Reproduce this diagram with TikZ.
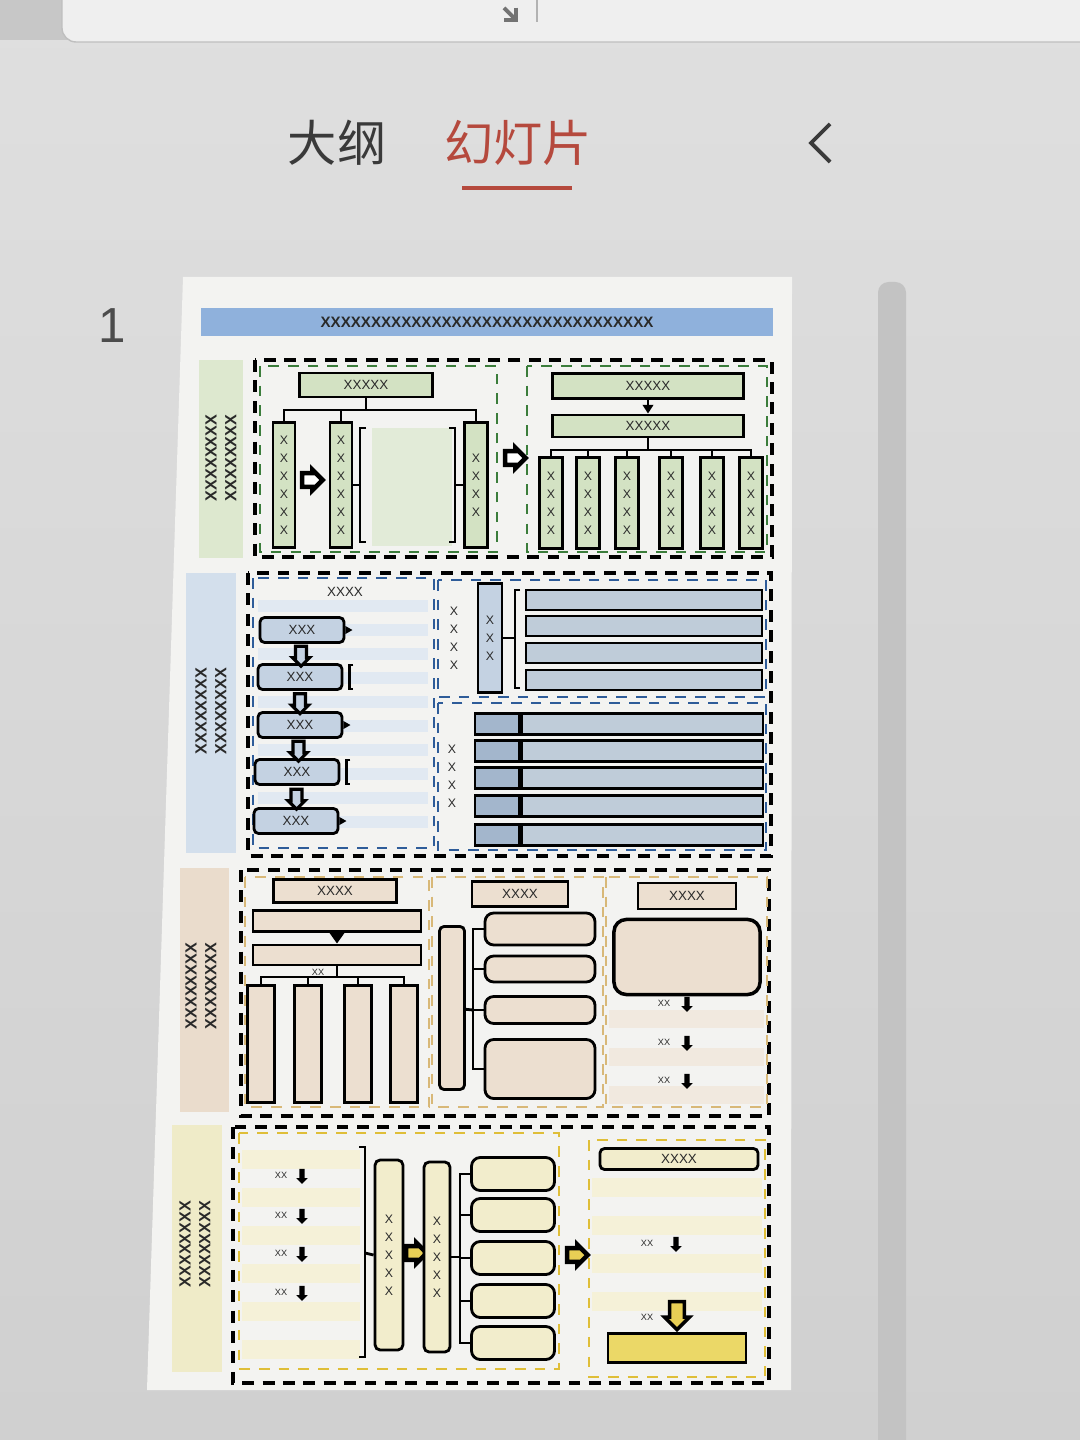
\documentclass[tikz,border=0pt]{standalone}
\usepackage{fontspec}
\setmainfont{Liberation Sans}
\newfontfamily\cjk{Noto Sans CJK SC}
\usetikzlibrary{shapes.arrows,calc,arrows.meta}

\definecolor{scrtop}{HTML}{DFDFDF}
\definecolor{scrbot}{HTML}{D0D0D0}
\definecolor{card}{HTML}{EFEFEF}
\definecolor{slide}{HTML}{F3F3F1}
\definecolor{scroll}{HTML}{C3C3C3}
\definecolor{tabgrey}{HTML}{3A3A3A}
\definecolor{tabred}{HTML}{B5493D}
\definecolor{txt}{HTML}{2A2A2A}
\definecolor{tblue}{HTML}{8FB1DC}
\definecolor{glight}{HTML}{DDE8CF}
\definecolor{gfill}{HTML}{D3E2C3}
\definecolor{gpale}{HTML}{E2EBD8}
\definecolor{gdash}{HTML}{3B7D3B}
\definecolor{blight}{HTML}{D3DFEC}
\definecolor{bfill}{HTML}{C4D2E2}
\definecolor{bstripe}{HTML}{E1E9F2}
\definecolor{bbar}{HTML}{BFCCD9}
\definecolor{bdark}{HTML}{A3B6CC}
\definecolor{bdash}{HTML}{2E5C99}
\definecolor{clight}{HTML}{EADCCC}
\definecolor{cfill}{HTML}{ECDFD0}
\definecolor{cstripe}{HTML}{F1E9DF}
\definecolor{cdash}{HTML}{D8B878}
\definecolor{ylight}{HTML}{EFEBC8}
\definecolor{yfill}{HTML}{F2EDCC}
\definecolor{ystripe}{HTML}{F5F1D8}
\definecolor{ydash}{HTML}{DFBE38}
\definecolor{yarrow}{HTML}{E8CF55}
\definecolor{ystrong}{HTML}{EBD867}

\tikzset{
  every node/.style={inner sep=0pt, text=txt, font=\fontsize{3.8}{4.5}\selectfont},
  bx/.style={draw, line width=0.8pt, rectangle},
  rbx/.style={bx, rounded corners=1.3pt},
  vtxt/.style={align=center, font=\fontsize{3.5}{5.1}\selectfont},
  tiny/.style={font=\fontsize{2.6}{3}\selectfont},
  lab/.style={rotate=90, align=center, font=\bfseries\fontsize{4.6}{5.6}\selectfont},
  outer/.style={draw=black, line width=1.1pt, dash pattern=on 3.4pt off 2.4pt},
  inner/.style={line width=0.7pt, dash pattern=on 3pt off 2.6pt},
  wire/.style={line width=0.8pt},
  harr/.style={single arrow, draw, line width=1.3pt, minimum height=0.19cm, minimum width=0.19cm, single arrow head extend=0.035cm, inner sep=1.3pt},
  darr/.style={single arrow, draw, line width=0.9pt, fill=bfill, shape border rotate=270, minimum height=0.2cm, minimum width=0.15cm, single arrow head extend=0.03cm, inner sep=1.1pt},
  sarr/.style={single arrow, fill=black, shape border rotate=270, minimum height=0.15cm, minimum width=0.1cm, single arrow head extend=0.03cm, inner sep=0.55pt},
  bigarr/.style={single arrow, draw, line width=1pt, fill=yarrow, shape border rotate=270, minimum height=0.28cm, minimum width=0.24cm, single arrow head extend=0.05cm, inner sep=1.6pt}
}

\begin{document}
\begin{tikzpicture}[x=0.01cm,y=-0.01cm]
    %schermo
    \useasboundingbox (0,0) rectangle (1080,1440);
    \shade[top color=scrtop, bottom color=scrbot] (0,0) rectangle (1080,1440);
    \fill[black!22] (0,0) rectangle (70,40);
    \draw[fill=card, draw=black!25, rounded corners=4pt] (62,-30) rectangle (1110,42);
    \draw[line width=1.1pt, black!55, -{Straight Barb[length=2.5pt]}] (504,8) -- (518,22);
    \draw[line width=0.8pt, black!30] (537,0) -- (537,22);
    %schede
    \node[font=\cjk\fontsize{14}{14}\selectfont, text=tabgrey] (tab1) at (337,143) {大纲};
    \node[font=\cjk\fontsize{14}{14}\selectfont, text=tabred] (tab2) at (518,143) {幻灯片};
    \draw[tabred, line width=1.4pt] (462,188) -- (572,188);
    \draw[tabgrey, line width=1.1pt] (830,124) -- (811,143) -- (830,162);
    \node[font=\fontsize{14}{14}\selectfont, text=black!70] (num) at (112,326) {1};
    \fill[scroll, rounded corners=3pt] (878,282) rectangle (906,1470);
    %miniatura
    \fill[slide] (183,277) -- (792,277) -- (791,1390) -- (147,1390) -- cycle;
    \fill[tblue] (201,308) rectangle (773,336);
    \node[font=\bfseries\fontsize{4.3}{5}\selectfont] (title) at (487,322) {XXXXXXXXXXXXXXXXXXXXXXXXXXXXXXXXX};
    %%%%%%%%%%%%%%%%%%%%%%%%%%%%%%%%%%%%%%%%%%%%%%%%%%%%%%%%%%%%%%%%%%%%%%%%%%
    %sezione 1
    \fill[glight] (199,360) rectangle (243,558);
    \node[lab] (glab) at (221,458) {XXXXXXXX\\XXXXXXXX};
    \draw[outer] (255,360) rectangle (772,557);
    \draw[inner, draw=gdash] (260,366) rectangle (497,552);
    \draw[inner, draw=gdash] (527,366) rectangle (767,552);
    \node[bx, fill=gfill, minimum width=1.33cm, minimum height=.24cm] (g1top) at (366,385) {XXXXX};
    \node[bx, fill=gfill, minimum width=.22cm, minimum height=1.25cm, vtxt] (gb1) at (284,485) {X\\X\\X\\X\\X\\X};
    \node[bx, fill=gfill, minimum width=.22cm, minimum height=1.25cm, vtxt] (gb2) at (341,485) {X\\X\\X\\X\\X\\X};
    \node[bx, fill=gfill, minimum width=.23cm, minimum height=1.25cm, vtxt] (gb3) at (476,485) {X\\X\\X\\X};
    \node[fill=gpale, minimum width=.8cm, minimum height=1.17cm] (gpic) at (412,487) {};
    \coordinate (g1j) at (366,410);
    \draw[wire] (g1top) -- (g1j);
    \draw[wire] (gb1.north) |- (g1j) -| (gb3.north);
    \draw[wire] (gb2.north) -- (gb2.north |- g1j);
    \coordinate (gbl) at (360,485);
    \coordinate (gbr) at (455,485);
    \draw[wire] (366,428) -- (360,428) -- (360,542) -- (366,542);
    \draw[wire] (449,428) -- (455,428) -- (455,542) -- (449,542);
    \draw[wire] (gb2.east) -- (gbl);
    \draw[wire] (gbr) -- (gb3.west);
    \node[harr, fill=white] (ga1) at (309,480) {};
    \node[harr, fill=white] (ga2) at (512,458) {};
    \node[bx, fill=gfill, minimum width=1.91cm, minimum height=.25cm] (g2a) at (648,386) {XXXXX};
    \node[bx, fill=gfill, minimum width=1.91cm, minimum height=.22cm] (g2b) at (648,426) {XXXXX};
    \draw[wire, -{Triangle[length=2.5pt,width=3pt]}] (g2a) -- (g2b);
    \coordinate (g2j) at (648,450);
    \draw[wire] (g2b) -- (g2j);
    \foreach \i/\x in {1/551,2/588,3/627,4/671,5/712,6/751}
        \node[bx, fill=gfill, minimum width=.23cm, minimum height=.91cm, vtxt] (gc\i) at (\x,503) {X\\X\\X\\X};
    \draw[wire] (gc1.north) |- (g2j) -| (gc6.north);
    \foreach \i in {2,...,5} \draw[wire] (gc\i.north) -- (gc\i.north |- g2j);
    %%%%%%%%%%%%%%%%%%%%%%%%%%%%%%%%%%%%%%%%%%%%%%%%%%%%%%%%%%%%%%%%%%%%%%%%%%
    %sezione 2
    \fill[blight] (186,573) rectangle (236,853);
    \node[lab] (blab) at (211,711) {XXXXXXXX\\XXXXXXXX};
    \draw[outer] (248,573) rectangle (771,856);
    \foreach \k in {0,...,9} \fill[bstripe] (258,{600+24*\k}) rectangle (428,{612+24*\k});
    \draw[inner, draw=bdash] (253,578) rectangle (434,848);
    \draw[inner, draw=bdash] (438,580) rectangle (766,697);
    \draw[inner, draw=bdash] (438,703) rectangle (766,850);
    \node (bt) at (345,592) {XXXX};
    \foreach \i/\x/\y in {1/302/630,2/300/677,3/300/725,4/297/772,5/296/821}
        \node[rbx, fill=bfill, minimum width=.84cm, minimum height=.25cm] (bb\i) at (\x,\y) {XXX};
    \foreach \i/\j in {1/2,2/3,3/4,4/5} \path (bb\i) -- (bb\j) node[midway, darr] (bd\i) {};
    \foreach \i in {1,3,5} \fill ($(bb\i.east)+(0,-4)$) -- ($(bb\i.east)+(7,0)$) -- ($(bb\i.east)+(0,4)$) -- cycle;
    \foreach \i in {2,4} \draw[wire] ($(bb\i.east)+(10,-12)$) -- ++(-4,0) -- ++(0,24) -- ++(4,0);
    \node[vtxt] (bx1) at (454,638) {X\\X\\X\\X};
    \node[bx, fill=bfill, minimum width=.24cm, minimum height=1.09cm, vtxt] (bv) at (490,638) {X\\X\\X};
    \coordinate (bbr) at (515,638);
    \draw[wire] (520,590) -- (515,590) -- (515,688) -- (520,688);
    \draw[wire] (bv) -- (bbr);
    \foreach \i/\y in {1/600,2/626,3/653,4/680}
        \node[bx, fill=bbar, minimum width=2.36cm, minimum height=.2cm] (bh\i) at (644,\y) {};
    \node[vtxt] (bx2) at (452,776) {X\\X\\X\\X};
    \foreach \i/\y in {1/724,2/751,3/778,4/806,5/835}{
        \node[bx, fill=bdark, minimum width=.44cm, minimum height=.21cm] (bl\i) at (497,\y) {};
        \node[bx, fill=bbar, minimum width=2.41cm, minimum height=.21cm, anchor=west] (br\i) at (bl\i.east) {};
    }
    %%%%%%%%%%%%%%%%%%%%%%%%%%%%%%%%%%%%%%%%%%%%%%%%%%%%%%%%%%%%%%%%%%%%%%%%%%
    %sezione 3
    \fill[clight] (180,868) rectangle (229,1112);
    \node[lab] (clab) at (201,986) {XXXXXXXX\\XXXXXXXX};
    \draw[outer] (241,870) rectangle (769,1116);
    \foreach \y in {1010,1048,1086} \fill[cstripe] (609,\y) rectangle (764,\y+18);
    \draw[inner, draw=cdash] (245,877) rectangle (429,1107);
    \draw[inner, draw=cdash] (432,877) rectangle (603,1107);
    \draw[inner, draw=cdash] (606,877) rectangle (767,1107);
    \node[bx, fill=cfill, minimum width=1.23cm, minimum height=.23cm] (c1t) at (335,891) {XXXX};
    \node[bx, fill=cfill, minimum width=1.68cm, minimum height=.21cm] (c1a) at (337,921) {};
    \node[bx, fill=cfill, minimum width=1.68cm, minimum height=.2cm] (c1b) at (337,955) {};
    \draw[wire, -{Triangle[length=3pt,width=4pt]}] (c1a) -- (c1b);
    \node[tiny] (cxx) at (318,972) {XX};
    \coordinate (c1j) at (337,977);
    \draw[wire] (c1b) -- (c1j);
    \foreach \i/\x in {1/261,2/308,3/358,4/404}
        \node[bx, fill=cfill, minimum width=.27cm, minimum height=1.17cm] (cb\i) at (\x,1044) {};
    \draw[wire] (cb1.north) |- (c1j) -| (cb4.north);
    \foreach \i in {2,3} \draw[wire] (cb\i.north) -- (cb\i.north |- c1j);
    \node[bx, fill=cfill, minimum width=.96cm, minimum height=.25cm] (c2t) at (520,894) {XXXX};
    \node[rbx, fill=cfill, minimum width=.25cm, minimum height=1.63cm] (c2v) at (452,1008) {};
    \foreach \i/\y/\h in {1/929/0.32cm,2/969/0.26cm,3/1010/0.27cm,4/1069/0.59cm}
        \node[rbx, fill=cfill, rounded corners=2.5pt, minimum width=1.1cm, minimum height=\h] (cm\i) at (540,\y) {};
    \coordinate (c2j) at (473,1010);
    \draw[wire] (c2v) -- (c2j);
    \draw[wire] (cm1.west) -| (c2j) |- (cm4.west);
    \foreach \i in {2,3} \draw[wire] (cm\i.west) -- (cm\i.west -| c2j);
    \node[bx, fill=cfill, minimum width=.98cm, minimum height=.26cm] (c3t) at (687,896) {XXXX};
    \node[bx, fill=cfill, rounded corners=3.5pt, line width=1pt, minimum width=1.46cm, minimum height=.75cm] (c3b) at (687,957) {};
    \foreach \i/\y in {1/1003,2/1042,3/1080}{
        \node[tiny] (cx\i) at (664,\y) {XX};
        \node[sarr] (ca\i) at (687,\y) {};
    }
    %%%%%%%%%%%%%%%%%%%%%%%%%%%%%%%%%%%%%%%%%%%%%%%%%%%%%%%%%%%%%%%%%%%%%%%%%%
    %sezione 4
    \fill[ylight] (172,1125) rectangle (222,1372);
    \node[lab] (ylab) at (195,1244) {XXXXXXXX\\XXXXXXXX};
    \draw[outer] (233,1127) rectangle (769,1383);
    \foreach \y in {1150,1188,1226,1264,1302,1340} \fill[ystripe] (242,\y) rectangle (360,\y+19);
    \foreach \y in {1178,1216,1254,1292} \fill[ystripe] (592,\y) rectangle (762,\y+19);
    \draw[inner, draw=ydash] (239,1133) rectangle (559,1369);
    \draw[inner, draw=ydash] (589,1140) rectangle (765,1377);
    \foreach \i/\y in {1/1175,2/1215,3/1253,4/1292}{
        \node[tiny] (yx\i) at (281,\y) {XX};
        \node[sarr] (ya\i) at (302,\y) {};
    }
    \coordinate (ybr) at (365,1253);
    \draw[wire] (359,1147) -- (365,1147) -- (365,1357) -- (359,1357);
    \node[bx, fill=yfill, rounded corners=1.5pt, minimum width=.28cm, minimum height=1.9cm, vtxt] (yb1) at (389,1255) {X\\X\\X\\X\\X};
    \draw[wire] (ybr) -- (yb1.west);
    \node[harr, fill=yarrow] (yh1) at (413,1253) {};
    \node[bx, fill=yfill, rounded corners=1.5pt, minimum width=.26cm, minimum height=1.9cm, vtxt] (yb2) at (437,1257) {X\\X\\X\\X\\X};
    \coordinate (y2j) at (460,1257);
    \draw[wire] (yb2) -- (y2j);
    \foreach \i/\y in {1/1174,2/1215,3/1258,4/1301,5/1343}
        \node[rbx, fill=yfill, rounded corners=2.5pt, minimum width=.83cm, minimum height=.33cm] (ym\i) at (513,\y) {};
    \draw[wire] (ym1.west) -| (y2j) |- (ym5.west);
    \foreach \i in {2,3,4} \draw[wire] (ym\i.west) -- (ym\i.west -| y2j);
    \node[harr, fill=yarrow] (yh2) at (574,1255) {};
    \node[rbx, fill=yfill, minimum width=1.58cm, minimum height=.21cm] (y3t) at (679,1159) {XXXX};
    \node[tiny] (yx5) at (647,1243) {XX};
    \node[sarr] (ya5) at (676,1243) {};
    \node[tiny] (yx6) at (647,1317) {XX};
    \node[bx, fill=ystrong, minimum width=1.38cm, minimum height=.29cm] (y3b) at (677,1348) {};
    \node[bigarr, anchor=tip] (ya6) at (y3b.north) {};
\end{tikzpicture}
\end{document}
